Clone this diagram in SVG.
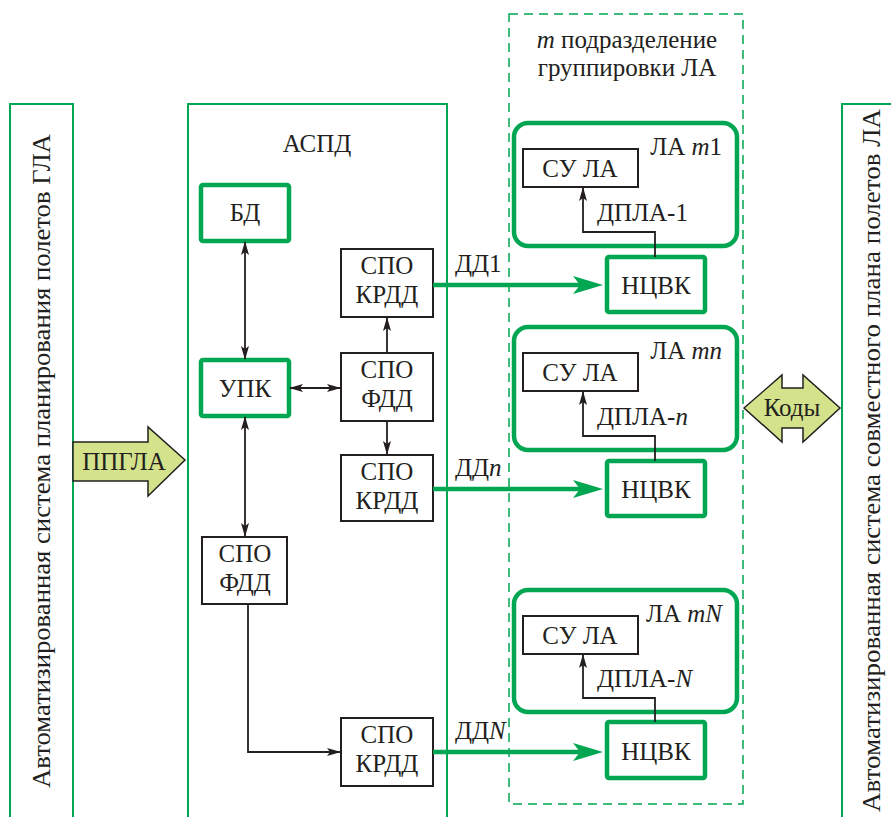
<svg xmlns="http://www.w3.org/2000/svg" width="891" height="817" viewBox="0 0 891 817">
<style>
.gb{fill:#fff;stroke:#00a651;stroke-width:4.5}
.bb{fill:#fff;stroke:#231f20;stroke-width:2}
.frame{fill:none;stroke:#00a651;stroke-width:2}
.ln{fill:none;stroke:#231f20;stroke-width:1.8}
.gl{fill:none;stroke:#00a651;stroke-width:4.5}
.fat{fill:#d4e38b;stroke:#231f20;stroke-width:1.5}
</style>
<defs>
<marker id="ab" markerWidth="14" markerHeight="8" refX="13" refY="4" orient="auto-start-reverse" markerUnits="userSpaceOnUse"><path d="M0,0 L14,4 L0,8 L3,4z" fill="#231f20"/></marker>
<marker id="ag" markerWidth="30" markerHeight="18" refX="10" refY="9" orient="auto" markerUnits="userSpaceOnUse"><path d="M0,0 L30,9 L0,18 L7,9z" fill="#00a651"/></marker>
</defs>
<rect width="891" height="817" fill="#fff"/>

<g id="left-system">
<path class="frame" d="M10,820 V104 H73 V820"/>
<text font-family="Liberation Serif, DejaVu Serif, serif" font-size="26" fill="#231f20" transform="translate(50,134) rotate(-90)" text-anchor="end" textLength="654" lengthAdjust="spacingAndGlyphs">Автоматизированная система планирования полетов ГЛА</text>
</g>
<g id="right-system">
<path class="frame" d="M842,820 V104 H895"/>
<text font-family="Liberation Serif, DejaVu Serif, serif" font-size="26" fill="#231f20" transform="translate(880,109) rotate(-90)" text-anchor="end" textLength="703" lengthAdjust="spacingAndGlyphs">Автоматизированная система совместного плана полетов ЛА</text>
</g>
<g id="aspd">
<path class="frame" d="M188,820 V104 H447 V820"/>
<text font-family="Liberation Serif, DejaVu Serif, serif" font-size="25" fill="#231f20" text-anchor="middle" x="317" y="152">АСПД</text>
</g>
<g id="subdivision">
<rect x="509" y="14" width="234" height="790" fill="none" stroke="#00a651" stroke-width="1.5" stroke-dasharray="9,6"/>
<text font-family="Liberation Serif, DejaVu Serif, serif" font-size="25" fill="#231f20" text-anchor="middle" x="627" y="48"><tspan font-style="italic">m</tspan> подразделение</text>
<text font-family="Liberation Serif, DejaVu Serif, serif" font-size="25" fill="#231f20" text-anchor="middle" x="627" y="76">группировки ЛА</text>
</g>

<g id="ppgla">
<path class="fat" d="M73,442 H148 V427 L185,460 L148,496 V481 H73 Z"/>
<text font-family="Liberation Serif, DejaVu Serif, serif" font-size="25" fill="#231f20" text-anchor="middle" x="124" y="470">ППГЛА</text>
</g>
<g id="kody">
<path class="fat" d="M744,408 L782,375 V388 H803 V375 L840,408 L803,442 V428 H782 V442 Z"/>
<text font-family="Liberation Serif, DejaVu Serif, serif" font-size="25" fill="#231f20" text-anchor="middle" x="792" y="416">Коды</text>
</g>

<g id="bd"><rect class="gb" x="201" y="185" width="88" height="56" rx="2"/><text font-family="Liberation Serif, DejaVu Serif, serif" font-size="25" fill="#231f20" text-anchor="middle" x="245" y="221">БД</text></g>
<g id="upk"><rect class="gb" x="201" y="360" width="88" height="56" rx="2"/><text font-family="Liberation Serif, DejaVu Serif, serif" font-size="25" fill="#231f20" text-anchor="middle" x="245" y="397">УПК</text></g>
<g id="spo-krdd-1"><rect class="bb" x="341" y="249" width="92" height="68"/><text font-family="Liberation Serif, DejaVu Serif, serif" font-size="25" fill="#231f20" text-anchor="middle" x="387" y="274">СПО</text><text font-family="Liberation Serif, DejaVu Serif, serif" font-size="25" fill="#231f20" text-anchor="middle" x="387" y="303">КРДД</text></g>
<g id="spo-fdd-1"><rect class="bb" x="341" y="353" width="92" height="68"/><text font-family="Liberation Serif, DejaVu Serif, serif" font-size="25" fill="#231f20" text-anchor="middle" x="387" y="378">СПО</text><text font-family="Liberation Serif, DejaVu Serif, serif" font-size="25" fill="#231f20" text-anchor="middle" x="387" y="407">ФДД</text></g>
<g id="spo-krdd-n"><rect class="bb" x="341" y="455" width="92" height="66"/><text font-family="Liberation Serif, DejaVu Serif, serif" font-size="25" fill="#231f20" text-anchor="middle" x="387" y="480">СПО</text><text font-family="Liberation Serif, DejaVu Serif, serif" font-size="25" fill="#231f20" text-anchor="middle" x="387" y="509">КРДД</text></g>
<g id="spo-fdd-2"><rect class="bb" x="202" y="537" width="85" height="67"/><text font-family="Liberation Serif, DejaVu Serif, serif" font-size="25" fill="#231f20" text-anchor="middle" x="245" y="562">СПО</text><text font-family="Liberation Serif, DejaVu Serif, serif" font-size="25" fill="#231f20" text-anchor="middle" x="245" y="591">ФДД</text></g>
<g id="spo-krdd-N"><rect class="bb" x="341" y="718" width="92" height="68"/><text font-family="Liberation Serif, DejaVu Serif, serif" font-size="25" fill="#231f20" text-anchor="middle" x="387" y="743">СПО</text><text font-family="Liberation Serif, DejaVu Serif, serif" font-size="25" fill="#231f20" text-anchor="middle" x="387" y="772">КРДД</text></g>

<g id="la-1">
<rect class="gb" x="514" y="123" width="223" height="123" rx="14"/>
<text font-family="Liberation Serif, DejaVu Serif, serif" font-size="25" fill="#231f20" x="722" y="155" text-anchor="end">ЛА <tspan font-style="italic">m</tspan>1</text>
</g>
<g id="su-la-1"><rect class="bb" x="523" y="149" width="115" height="38"/><text font-family="Liberation Serif, DejaVu Serif, serif" font-size="25" fill="#231f20" text-anchor="middle" x="580" y="177">СУ ЛА</text></g>
<g id="ncvk-1"><rect class="gb" x="607" y="257" width="98" height="55" rx="2"/><text font-family="Liberation Serif, DejaVu Serif, serif" font-size="25" fill="#231f20" text-anchor="middle" x="656" y="294">НЦВК</text></g>

<g id="la-n">
<rect class="gb" x="514" y="327" width="223" height="123" rx="14"/>
<text font-family="Liberation Serif, DejaVu Serif, serif" font-size="25" fill="#231f20" x="722" y="359" text-anchor="end">ЛА <tspan font-style="italic">mn</tspan></text>
</g>
<g id="su-la-n"><rect class="bb" x="523" y="353" width="115" height="38"/><text font-family="Liberation Serif, DejaVu Serif, serif" font-size="25" fill="#231f20" text-anchor="middle" x="580" y="381">СУ ЛА</text></g>
<g id="ncvk-n"><rect class="gb" x="607" y="461" width="98" height="55" rx="2"/><text font-family="Liberation Serif, DejaVu Serif, serif" font-size="25" fill="#231f20" text-anchor="middle" x="656" y="498">НЦВК</text></g>

<g id="la-N">
<rect class="gb" x="514" y="590" width="223" height="122" rx="14"/>
<text font-family="Liberation Serif, DejaVu Serif, serif" font-size="25" fill="#231f20" x="722" y="622" text-anchor="end">ЛА <tspan font-style="italic">mN</tspan></text>
</g>
<g id="su-la-N"><rect class="bb" x="523" y="616" width="115" height="38"/><text font-family="Liberation Serif, DejaVu Serif, serif" font-size="25" fill="#231f20" text-anchor="middle" x="580" y="644">СУ ЛА</text></g>
<g id="ncvk-N"><rect class="gb" x="607" y="722" width="98" height="56" rx="2"/><text font-family="Liberation Serif, DejaVu Serif, serif" font-size="25" fill="#231f20" text-anchor="middle" x="656" y="760">НЦВК</text></g>

<g id="connectors">
<line class="ln" x1="245" y1="242" x2="245" y2="359" marker-start="url(#ab)" marker-end="url(#ab)"/>
<line class="ln" x1="290" y1="388" x2="340" y2="388" marker-start="url(#ab)" marker-end="url(#ab)"/>
<line class="ln" x1="387" y1="353" x2="387" y2="318" marker-end="url(#ab)"/>
<line class="ln" x1="387" y1="421" x2="387" y2="454" marker-end="url(#ab)"/>
<line class="ln" x1="245" y1="417" x2="245" y2="536" marker-start="url(#ab)" marker-end="url(#ab)"/>
<polyline class="ln" points="248,604 248,752 340,752" marker-end="url(#ab)"/>

<line class="gl" x1="433" y1="285" x2="583" y2="285" marker-end="url(#ag)"/>
<line class="gl" x1="433" y1="489" x2="583" y2="489" marker-end="url(#ag)"/>
<line class="gl" x1="433" y1="752" x2="583" y2="752" marker-end="url(#ag)"/>
<text font-family="Liberation Serif, DejaVu Serif, serif" font-size="25" fill="#231f20" x="455" y="272">ДД1</text>
<text font-family="Liberation Serif, DejaVu Serif, serif" font-size="25" fill="#231f20" x="455" y="476">ДД<tspan font-style="italic">n</tspan></text>
<text font-family="Liberation Serif, DejaVu Serif, serif" font-size="25" fill="#231f20" x="455" y="739">ДД<tspan font-style="italic">N</tspan></text>

<polyline class="ln" points="655,257 655,232 583,232 583,188" marker-end="url(#ab)"/>
<polyline class="ln" points="655,461 655,436 583,436 583,392" marker-end="url(#ab)"/>
<polyline class="ln" points="655,722 655,698 583,698 583,655" marker-end="url(#ab)"/>
<text font-family="Liberation Serif, DejaVu Serif, serif" font-size="25" fill="#231f20" x="597" y="221">ДПЛА-1</text>
<text font-family="Liberation Serif, DejaVu Serif, serif" font-size="25" fill="#231f20" x="597" y="425">ДПЛА-<tspan font-style="italic">n</tspan></text>
<text font-family="Liberation Serif, DejaVu Serif, serif" font-size="25" fill="#231f20" x="597" y="687">ДПЛА-<tspan font-style="italic">N</tspan></text>
</g>
</svg>
